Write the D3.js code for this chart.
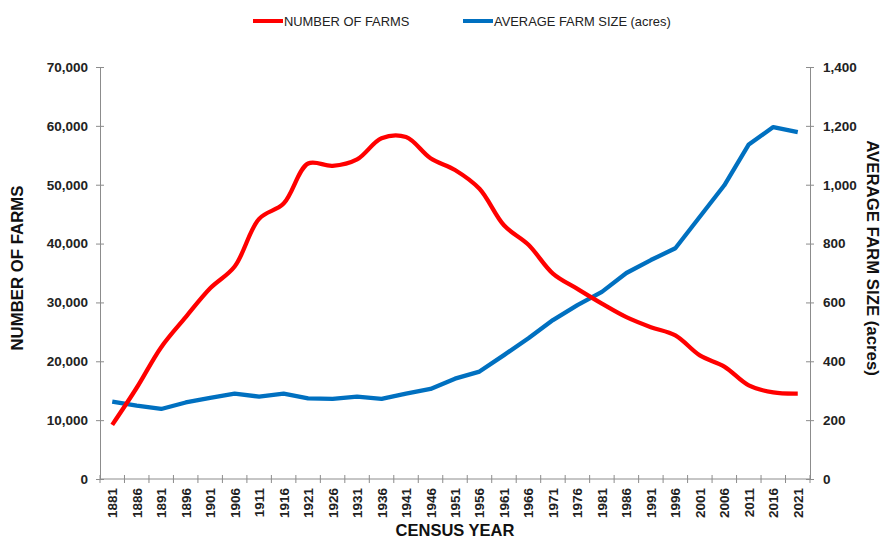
<!DOCTYPE html>
<html>
<head>
<meta charset="utf-8">
<script src="https://cdn.jsdelivr.net/npm/d3@7"></script>
<style>
  body { margin: 0; background: #fff; }
  svg { font-family: "Liberation Sans", Arial, sans-serif; }
  .axis path, .axis line { stroke: #8c8c8c; }
  .axis text { font-weight: bold; font-size: 13.5px; fill: #222; }
</style>
</head>
<body>
<div id="chart"></div>
<script>
// census years
const years = ['1881', '1886', '1891', '1896', '1901', '1906', '1911', '1916', '1921', '1926',
  '1931', '1936', '1941', '1946', '1951', '1956', '1961', '1966', '1971', '1976',
  '1981', '1986', '1991', '1996', '2001', '2006', '2011', '2016', '2021']

const numberOfFarms = [9200, 15500, 22400, 27500, 32400, 36100, 44200, 46800, 53600, 53200,
  54300, 57900, 58100, 54500, 52500, 49300, 43100, 39800, 34900, 32300,
  29800, 27500, 25800, 24400, 21000, 19100, 15900, 14700, 14500]

const avgFarmSize = [263, 249, 238, 260, 276, 290, 280, 290, 274, 272,
  280, 272, 290, 306, 341, 365, 421, 478, 540, 591,
  636, 700, 744, 784, 891, 998, 1137, 1196, 1179]

const leftTicks = [0, 10000, 20000, 30000, 40000, 50000, 60000, 70000]
const rightTicks = [0, 200, 400, 600, 800, 1000, 1200, 1400]

const width = 884
const height = 539
const margin = {top: 67, right: 74, bottom: 60, left: 100}

const svg = d3.select('#chart').append('svg')
  .attr('width', width)
  .attr('height', height)

const x = d3.scaleBand().domain(years).range([margin.left, width - margin.right])
const yLeft = d3.scaleLinear().domain([0, 70000]).range([height - margin.bottom, margin.top])
const yRight = d3.scaleLinear().domain([0, 1400]).range([height - margin.bottom, margin.top])
const cx = d => x(d) + x.bandwidth() / 2

// left axis
const gl = svg.append('g').attr('class', 'axis')
  .attr('transform', `translate(${margin.left},0)`)
  .call(d3.axisLeft(yLeft).tickValues(leftTicks).tickFormat(d3.format(',')).tickSize(4).tickPadding(8))
gl.selectAll('.tick line').attr('x2', 4).attr('x1', -4)

// right axis
const gr = svg.append('g').attr('class', 'axis')
  .attr('transform', `translate(${width - margin.right},0)`)
  .call(d3.axisRight(yRight).tickValues(rightTicks).tickFormat(d3.format(',')).tickSize(4).tickPadding(9))
gr.selectAll('.tick line').attr('x1', -4)

// x axis, ticks at category boundaries
const gx = svg.append('g').attr('class', 'axis')
  .attr('transform', `translate(0,${height - margin.bottom})`)
gx.append('line')
  .attr('x1', margin.left).attr('x2', width - margin.right)
  .attr('stroke', '#8c8c8c')
const bounds = years.map(d => x(d)).concat([width - margin.right])
gx.selectAll('.bt').data(bounds).enter().append('line')
  .attr('class', 'bt')
  .attr('x1', d => d).attr('x2', d => d)
  .attr('y1', -4).attr('y2', 4)
gx.selectAll('.lbl').data(years).enter().append('text')
  .attr('class', 'lbl')
  .attr('transform', d => `translate(${cx(d) + 5},9) rotate(-90)`)
  .attr('text-anchor', 'end')
  .text(d => d)

// axis titles
svg.append('text')
  .attr('transform', `translate(23,268) rotate(-90)`)
  .attr('text-anchor', 'middle')
  .attr('font-weight', 'bold').attr('font-size', 16.8).attr('fill', '#111')
  .text('NUMBER OF FARMS')
svg.append('text')
  .attr('transform', `translate(867,258) rotate(90)`)
  .attr('text-anchor', 'middle')
  .attr('font-weight', 'bold').attr('font-size', 16.8).attr('fill', '#111')
  .text('AVERAGE FARM SIZE (acres)')
svg.append('text')
  .attr('x', (margin.left + width - margin.right) / 2)
  .attr('y', 536)
  .attr('text-anchor', 'middle')
  .attr('font-weight', 'bold').attr('font-size', 16.5).attr('fill', '#111')
  .text('CENSUS YEAR')

// lines
const farmsLine = d3.line()
  .x((d, i) => cx(years[i]))
  .y(d => yLeft(d))
  .curve(d3.curveCatmullRom.alpha(0.5))
const sizeLine = d3.line()
  .x((d, i) => cx(years[i]))
  .y(d => yRight(d))

svg.append('path').datum(avgFarmSize)
  .attr('d', sizeLine)
  .attr('fill', 'none').attr('stroke', '#0070c0').attr('stroke-width', 4.3)
  .attr('stroke-linejoin', 'round')
svg.append('path').datum(numberOfFarms)
  .attr('d', farmsLine)
  .attr('fill', 'none').attr('stroke', '#ff0000').attr('stroke-width', 4.3)
  .attr('stroke-linejoin', 'round')

// legend
const legend = [
  {name: 'NUMBER OF FARMS', color: '#ff0000', x: 253},
  {name: 'AVERAGE FARM SIZE (acres)', color: '#0070c0', x: 463}
]
const lg = svg.selectAll('.leg').data(legend).enter().append('g')
  .attr('class', 'leg')
  .attr('transform', d => `translate(${d.x},21)`)
lg.append('line').attr('x1', 0).attr('x2', 30)
  .attr('stroke', d => d.color).attr('stroke-width', 4)
lg.append('text').attr('x', 31).attr('y', 4.5)
  .attr('font-size', 12.9).attr('fill', '#222')
  .text(d => d.name)
</script>
</body>
</html>
